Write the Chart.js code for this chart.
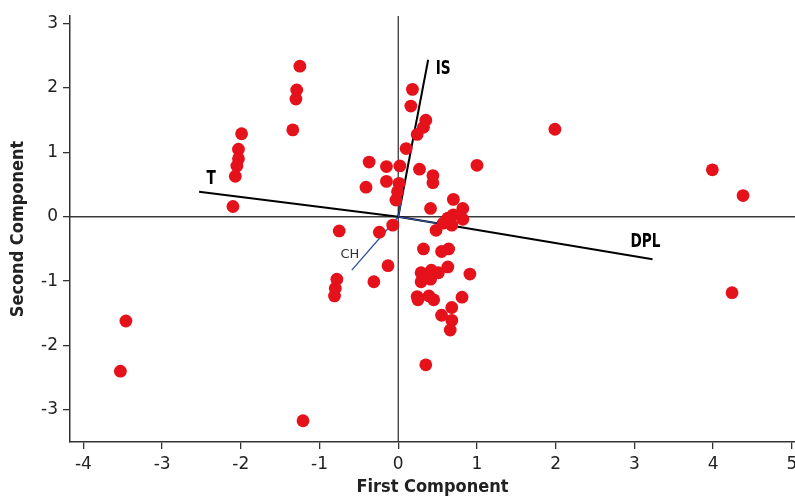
<!DOCTYPE html>
<html><head><meta charset="utf-8">
<script src="https://cdn.jsdelivr.net/npm/chart.js@4.4.1/dist/chart.umd.min.js"></script>
<style>html,body{margin:0;padding:0;background:#fff}#wrap{width:795px;height:496px}</style>
</head><body><div id="wrap"><canvas id="c" width="795" height="496"></canvas></div>
<script>
// Scores (first, second component)
const scoreX = [-1.25,-1.29,-1.30,-1.34,-1.99,-2.03,-2.03,-2.05,-2.07,-2.10,-3.46,-3.53,-1.21,
  0.18,0.16,0.35,0.32,0.24,0.10,-0.37,-0.15,0.02,0.27,0.44,0.44,1.00,-0.41,-0.15,0.01,-0.01,-0.03,
  0.70,0.82,0.41,0.82,0.63,0.70,0.57,0.68,0.48,0.65,
  -0.75,-0.24,-0.07,0.32,0.55,0.64,-0.13,0.63,0.91,0.29,0.42,0.51,0.29,0.41,-0.78,-0.80,-0.81,-0.31,
  0.24,0.39,0.45,0.25,0.81,0.68,0.55,0.68,0.66,0.35,
  1.99,3.99,4.38,4.24];
const scoreY = [2.34,1.97,1.83,1.35,1.29,1.05,0.90,0.79,0.63,0.16,-1.62,-2.40,-3.17,
  1.98,1.72,1.50,1.39,1.28,1.06,0.85,0.78,0.79,0.74,0.64,0.53,0.80,0.46,0.55,0.52,0.39,0.26,
  0.27,0.13,0.13,-0.04,-0.02,0.03,-0.10,-0.13,-0.21,-0.05,
  -0.22,-0.24,-0.13,-0.50,-0.54,-0.50,-0.76,-0.78,-0.89,-0.87,-0.83,-0.87,-1.01,-0.97,-0.97,-1.11,-1.23,-1.01,
  -1.24,-1.23,-1.29,-1.29,-1.25,-1.41,-1.53,-1.61,-1.76,-2.30,
  1.36,0.73,0.33,-1.18];
// Loading vectors
const vectorNames = ['T','IS','DPL','CH'];
const vectorX = [-2.53, 0.38, 3.23, -0.59];
const vectorY = [0.39, 2.44, -0.66, -0.83];
const xTicks = [-4,-3,-2,-1,0,1,2,3,4,5];
const yTicks = [-3,-2,-1,0,1,2,3];

const points = scoreX.map((x,i)=>({x, y: scoreY[i]}));
const vecDatasets = vectorNames.map((n,i)=>({
  type:'line', label:n,
  data:[{x:0,y:0},{x:vectorX[i],y:vectorY[i]}],
  borderColor: n==='CH' ? '#2e4f9e' : '#000',
  borderWidth: n==='CH' ? 1.3 : 2,
  pointRadius:0, fill:false, order:2
}));
const innerFrac = {IS:0.1, DPL:0.15};
const innerDatasets = Object.keys(innerFrac).map(n=>{
  const i = vectorNames.indexOf(n);
  return {type:'line', label:n+'_in',
    data:[{x:0,y:0},{x:vectorX[i]*innerFrac[n],y:vectorY[i]*innerFrac[n]}],
    borderColor:'#2e4f9e', borderWidth:1.3, pointRadius:0, fill:false, order:1};
});

const labelOffsets = {T:[12,-13], IS:[15,9], DPL:[-7,-17], CH:[-2,-16]};
const zeroLines = {
  id:'zeroLines',
  beforeDatasetsDraw(chart){
    const {ctx, chartArea:a, scales:{x,y}} = chart;
    ctx.save();
    ctx.strokeStyle='#3a3a3a'; ctx.lineWidth=1.3;
    const px = x.getPixelForValue(0), py = y.getPixelForValue(0);
    ctx.beginPath(); ctx.moveTo(px,a.top); ctx.lineTo(px,a.bottom); ctx.stroke();
    ctx.beginPath(); ctx.moveTo(a.left,py); ctx.lineTo(a.right,py); ctx.stroke();
    ctx.restore();
  }
};
const vecLabels = {
  id:'vecLabels',
  afterDatasetsDraw(chart){
    const {ctx, scales:{x,y}} = chart;
    vectorNames.forEach((n,i)=>{
      const px = x.getPixelForValue(vectorX[i]) + labelOffsets[n][0];
      const py = y.getPixelForValue(vectorY[i]) + labelOffsets[n][1];
      ctx.save();
      ctx.textAlign='center'; ctx.textBaseline='middle';
      if(n==='CH'){
        ctx.font='13px "DejaVu Sans", sans-serif'; ctx.fillStyle='#333';
        ctx.fillText(n,px,py);
      } else {
        ctx.translate(px,py); ctx.scale(0.76,1.05);
        ctx.font='bold 18px "DejaVu Sans", sans-serif'; ctx.fillStyle='#000';
        ctx.fillText(n,0,0);
      }
      ctx.restore();
    });
  }
};

new Chart(document.getElementById('c'), {
  type:'scatter',
  data:{datasets:[
    {label:'scores', data:points, backgroundColor:'#e5111b', borderColor:'#e5111b', borderWidth:0, pointRadius:6.4, pointHoverRadius:6.4, order:0},
    ...innerDatasets, ...vecDatasets
  ]},
  options:{
    responsive:false, animation:false, devicePixelRatio:1,
    layout:{autoPadding:false, padding:{top:16,right:0,left:0,bottom:0}},
    plugins:{legend:{display:false}, tooltip:{enabled:false}},
    scales:{
      x:{type:'linear', min:-4.17, max:5.04,
        afterBuildTicks:s=>{s.ticks = xTicks.map(v=>({value:v}));},
        afterFit:s=>{s.height=54; s.paddingLeft=0; s.paddingRight=0;},
        grid:{drawOnChartArea:false, drawTicks:true, tickLength:7, color:'#333', lineWidth:1.3},
        border:{display:true, color:'#333', width:1.5},
        ticks:{font:{family:'"DejaVu Sans", sans-serif', size:17}, color:'#222', padding:5, maxRotation:0},
        title:{display:true, text:'First Component', color:'#222', padding:{top:0,bottom:0},
          font:{family:'"DejaVu Sans Condensed","DejaVu Sans", sans-serif', size:18, weight:'bold', lineHeight:1}}
      },
      y:{type:'linear', min:-3.5, max:3.12,
        afterBuildTicks:s=>{s.ticks = yTicks.map(v=>({value:v}));},
        afterFit:s=>{s.width=70; s.paddingTop=0; s.paddingBottom=0;},
        grid:{drawOnChartArea:false, drawTicks:true, tickLength:7, color:'#333', lineWidth:1.3},
        border:{display:true, color:'#333', width:1.5},
        ticks:{font:{family:'"DejaVu Sans", sans-serif', size:17}, color:'#222', padding:5},
        title:{display:true, text:'Second Component', color:'#222', padding:{top:9,bottom:0},
          font:{family:'"DejaVu Sans Condensed","DejaVu Sans", sans-serif', size:18, weight:'bold', lineHeight:1}}
      }
    }
  },
  plugins:[zeroLines, vecLabels]
});
</script></body></html>
